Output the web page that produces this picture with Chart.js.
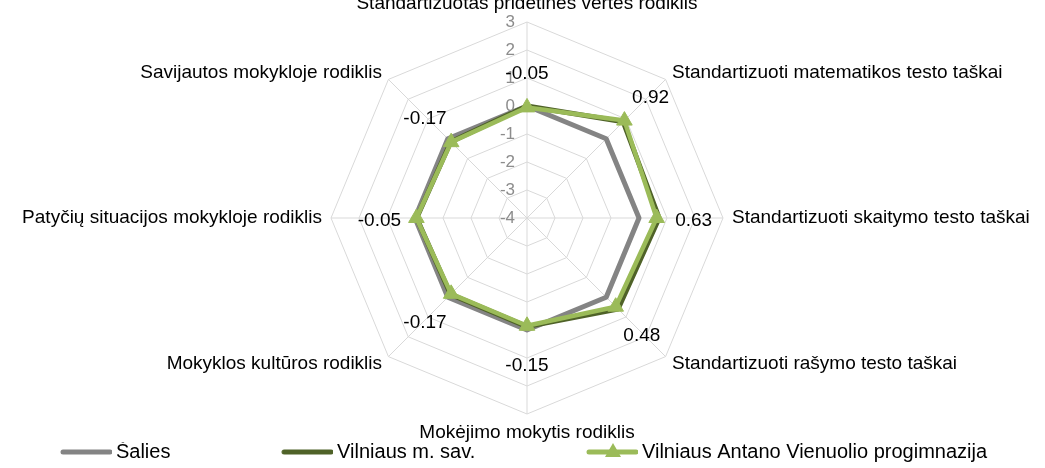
<!DOCTYPE html>
<html>
<head>
<meta charset="utf-8">
<script src="https://cdn.jsdelivr.net/npm/chart.js@4.4.1/dist/chart.umd.min.js"></script>
<style>
  html, body { margin: 0; padding: 0; background: #fff; overflow: hidden; }
  #wrap { position: relative; top: -6px; width: 1045px; height: 478px; }
</style>
</head>
<body>
<div id="wrap"><canvas id="radar"></canvas></div>
<script>
// ---- data ----
const categories = [
  'Standartizuotas pridėtinės vertės rodiklis',
  'Standartizuoti matematikos testo taškai',
  'Standartizuoti skaitymo testo taškai',
  'Standartizuoti rašymo testo taškai',
  'Mokėjimo mokytis rodiklis',
  'Mokyklos kultūros rodiklis',
  'Patyčių situacijos mokykloje rodiklis',
  'Savijautos mokykloje rodiklis'
];
const seriesNames = ['Šalies', 'Vilniaus m. sav.', 'Vilniaus Antano Vienuolio progimnazija'];
const salies = [0, 0, 0, 0, 0, 0, 0, 0];
const vilnius = [0.0, 0.86, 0.72, 0.6, -0.12, -0.14, -0.06, -0.15];
const mokykla = [-0.05, 0.92, 0.63, 0.48, -0.15, -0.17, -0.05, -0.17];
const tickLabels = [-4, -3, -2, -1, 0, 1, 2, 3];

const colors = ['#848484', '#4F6228', '#9BBB59'];
const FONT = "'Liberation Sans', Arial, sans-serif";

// small picture used as legend icon: line, with triangle for the school
function legendIcon(color, marker) {
  const c = document.createElement('canvas');
  c.width = 52; c.height = 20;
  const g = c.getContext('2d');
  g.strokeStyle = color;
  g.lineWidth = 5;
  g.lineCap = 'round';
  g.beginPath(); g.moveTo(3, 10); g.lineTo(50, 10); g.stroke();
  if (marker) {
    g.fillStyle = color;
    g.beginPath(); g.moveTo(27, 1); g.lineTo(35, 15); g.lineTo(19, 15); g.closePath(); g.fill();
  }
  return c;
}
const legendGaps = [21, 21, 0];

// tick numbers left of the vertical axis
const tickText = {
  id: 'tickText',
  afterDatasetsDraw(chart) {
    const s = chart.scales.r, ctx = chart.ctx;
    ctx.save();
    ctx.font = '17px ' + FONT;
    ctx.fillStyle = '#8c8c8c';
    ctx.textAlign = 'right';
    ctx.textBaseline = 'middle';
    tickLabels.forEach(v => {
      const d = s.getDistanceFromCenterForValue(v);
      ctx.fillText(String(v), s.xCenter - 12, s.yCenter - d);
    });
    ctx.restore();
  }
};

// value labels for the school series
const valueText = {
  id: 'valueText',
  afterDatasetsDraw(chart) {
    const s = chart.scales.r, ctx = chart.ctx;
    ctx.save();
    ctx.font = '19px ' + FONT;
    ctx.fillStyle = '#000';
    ctx.textAlign = 'center';
    ctx.textBaseline = 'middle';
    mokykla.forEach((v, i) => {
      const p = s.getPointPosition(i, s.getDistanceFromCenterForValue(v) + 37);
      ctx.fillText(v.toFixed(2), p.x, p.y + 3);
    });
    ctx.restore();
  }
};

new Chart(document.getElementById('radar'), {
  type: 'radar',
  data: {
    labels: categories,
    datasets: [
      { label: seriesNames[0], data: salies, borderColor: colors[0], backgroundColor: colors[0],
        borderWidth: 5, pointRadius: 0, fill: false, order: 3, borderJoinStyle: 'round' },
      { label: seriesNames[1], data: vilnius, borderColor: colors[1], backgroundColor: colors[1],
        borderWidth: 5, pointRadius: 0, fill: false, order: 2, borderJoinStyle: 'round' },
      { label: seriesNames[2], data: mokykla, borderColor: colors[2], backgroundColor: colors[2],
        borderWidth: 4.5, pointRadius: 9, pointStyle: 'triangle', pointBorderWidth: 1,
        pointBorderColor: colors[2], pointBackgroundColor: colors[2], fill: false, order: 1,
        borderJoinStyle: 'round' }
    ]
  },
  options: {
    responsive: true,
    maintainAspectRatio: false,
    animation: false,
    layout: { padding: { left: 8 } },
    scales: {
      r: {
        min: -4,
        max: 3,
        ticks: { display: false, stepSize: 1 },
        grid: { color: '#d9d9d9', lineWidth: 1 },
        angleLines: { color: '#d9d9d9', lineWidth: 1 },
        pointLabels: {
          color: '#000',
          padding: 9,
          // diagonal labels sit centred on their anchor, like the original
          font: (ctx) => ({ family: FONT, size: 19, lineHeight: ctx.index % 2 ? 0.05 : 1 })
        }
      }
    },
    plugins: {
      tooltip: { enabled: false },
      legend: {
        position: 'bottom',
        labels: {
          usePointStyle: true,
          pointStyleWidth: 40,
          padding: 0,
          color: '#000',
          font: { family: FONT, size: 20 },
          generateLabels(chart) {
            return chart.data.datasets.map((ds, i) => ({
              text: ds.label + ' '.repeat(legendGaps[i]),
              pointStyle: legendIcon(colors[i], i === 2),
              fillStyle: colors[i],
              strokeStyle: colors[i],
              lineWidth: 0,
              hidden: false,
              datasetIndex: i
            }));
          }
        }
      }
    }
  },
  plugins: [tickText, valueText]
});
</script>
</body>
</html>
